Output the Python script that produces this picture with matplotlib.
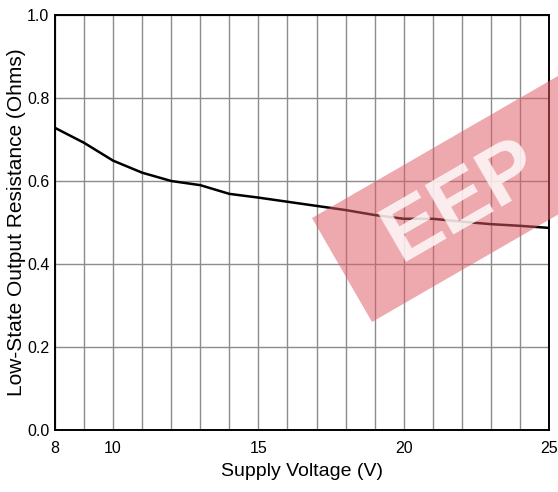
import numpy as np
import matplotlib
matplotlib.use("Agg")
import matplotlib.pyplot as plt
from matplotlib.patches import Polygon

plt.rcParams['font.family'] = ['Liberation Sans', 'DejaVu Sans']

# curve
voltage = [8, 9, 10, 11, 12, 13, 14, 15, 16.4, 18, 19, 20, 21, 22, 23, 24, 25]
resistance = [0.728, 0.692, 0.649, 0.620, 0.600, 0.590, 0.569, 0.560, 0.546,
              0.530, 0.518, 0.509, 0.509, 0.502, 0.496, 0.492, 0.487]

x_ticks = [8, 10, 15, 20, 25]
y_ticks = [0.0, 0.2, 0.4, 0.6, 0.8, 1.0]

fig = plt.figure(figsize=(5.58, 4.92), dpi=100)
ax = fig.add_axes([55/558, 1-430/492, 494/558, 415/492])

ax.plot(voltage, resistance, color='black', lw=1.8, zorder=3,
        solid_joinstyle='round')

ax.set_xlim(8, 25)
ax.set_ylim(0, 1.0)
ax.set_xticks(x_ticks)
ax.set_xticks(np.arange(8, 26, 1), minor=True)
ax.set_yticks(y_ticks)
ax.set_yticklabels([f"{v:.1f}" for v in y_ticks])
ax.grid(True, which='both', axis='x', color='#8c8c8c', lw=1.0)
ax.grid(True, which='major', axis='y', color='#8c8c8c', lw=1.0)
ax.set_axisbelow(True)
ax.tick_params(which='both', length=0, labelsize=11.5, colors='black')
ax.tick_params(axis='x', pad=8)
ax.tick_params(axis='y', pad=4)
for s in ax.spines.values():
    s.set_color('black')
    s.set_linewidth(1.4)

ax.set_xlabel("Supply Voltage (V)", fontsize=14, labelpad=5)
ax.set_ylabel("Low-State Output Resistance (Ohms)", fontsize=15, labelpad=1)

# watermark
def px(x, y):
    return (x/558, 1-y/492)

d = np.array([np.cos(np.radians(30)), -np.sin(np.radians(30))])
p0 = np.array([312, 218])
p1 = np.array([372, 322])
L = 340
corners = [p0, p1, p1 + L*d, p0 + L*d]
wm = Polygon([px(*c) for c in corners], closed=True, transform=fig.transFigure,
             facecolor='#e05a66', alpha=0.52, edgecolor='none', zorder=5)
fig.patches.append(wm)
c = (p0 + p1)/2 + 138*d
fig.text(*px(*c), "EEP", transform=fig.transFigure, fontsize=60, fontweight='bold',
         color='white', alpha=0.8, rotation=30, rotation_mode='anchor',
         ha='center', va='center', zorder=6)

fig.savefig("out.png", dpi=100)
